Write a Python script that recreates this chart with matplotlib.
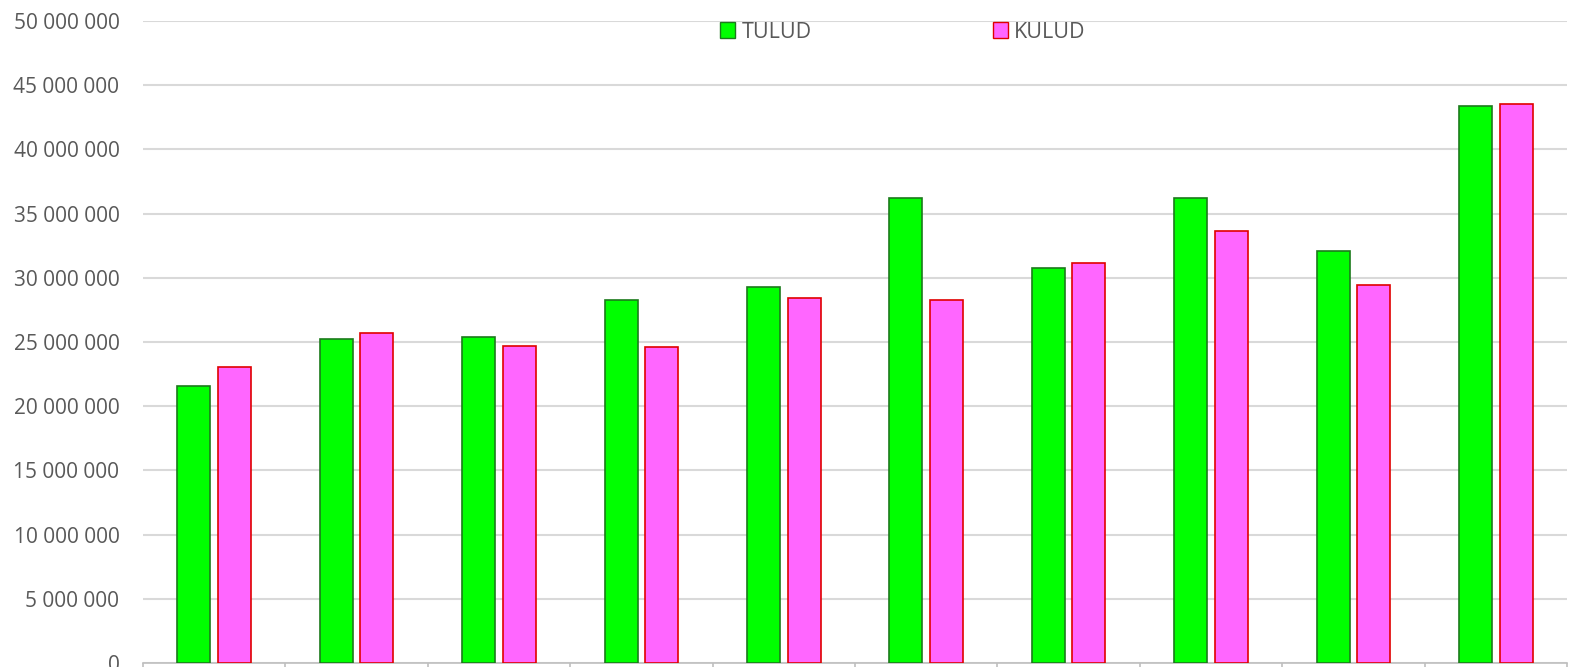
import numpy as np
import matplotlib.pyplot as plt
from matplotlib.ticker import FuncFormatter
from matplotlib.patches import Patch

# values
groups = ['', '', '', '', '', '', '', '', '', '']
tulud = [21.6e6, 25.25e6, 25.4e6, 28.3e6, 29.3e6, 36.2e6, 30.75e6, 36.2e6, 32.1e6, 43.4e6]
kulud = [23.05e6, 25.7e6, 24.7e6, 24.6e6, 28.45e6, 28.25e6, 31.15e6, 33.65e6, 29.45e6, 43.55e6]

plt.rcParams['font.family'] = ['Open Sans', 'DejaVu Sans']
grey = '#595959'

fig = plt.figure(figsize=(15.69, 6.67), dpi=100)
ax = fig.add_axes([143/1569, 4/667, 1424/1569, 642/667])

x = np.arange(len(groups))
w = 0.232
ax.bar(x - 0.143, tulud, w, color='#00ff00', edgecolor='#1b7a1b', linewidth=1.2, zorder=3)
ax.bar(x + 0.143, kulud, w, color='#ff66ff', edgecolor='#e00000', linewidth=1.2, zorder=3)

ax.set_xlim(-0.5, len(groups) - 0.5)
ax.set_ylim(0, 50e6)
ax.set_yticks(np.arange(0, 50e6 + 1, 5e6))
ax.yaxis.set_major_formatter(FuncFormatter(lambda v, p: f'{int(v):,}'.replace(',', ' ')))
ax.grid(axis='y', color='#d9d9d9', linewidth=1.5, zorder=0)
ax.set_xticks(x)
ax.set_xticklabels(groups)
ax.set_xticks(np.arange(-0.5, len(groups)), minor=True)
ax.tick_params(axis='x', which='major', length=0)
ax.tick_params(axis='x', which='minor', length=8, color='#bfbfbf', width=1.2)
ax.tick_params(axis='y', length=0, labelsize=15, labelcolor=grey, pad=17)

for s in ['top', 'right', 'left']:
    ax.spines[s].set_visible(False)
ax.spines['bottom'].set_color('#bfbfbf')
ax.spines['bottom'].set_linewidth(1.2)

handles = [Patch(facecolor='#00ff00', edgecolor='#1b7a1b', label='TULUD'),
           Patch(facecolor='#ff66ff', edgecolor='#e00000', label='KULUD')]
fig.legend(handles=handles, loc='center', bbox_to_anchor=(903/1569, 1 - 32/667), ncol=2,
           frameon=False, fontsize=15.5, labelcolor=grey, handlelength=0.7, handleheight=0.7,
           handletextpad=0.3, columnspacing=8.4)

fig.savefig('out.png', dpi=100)
